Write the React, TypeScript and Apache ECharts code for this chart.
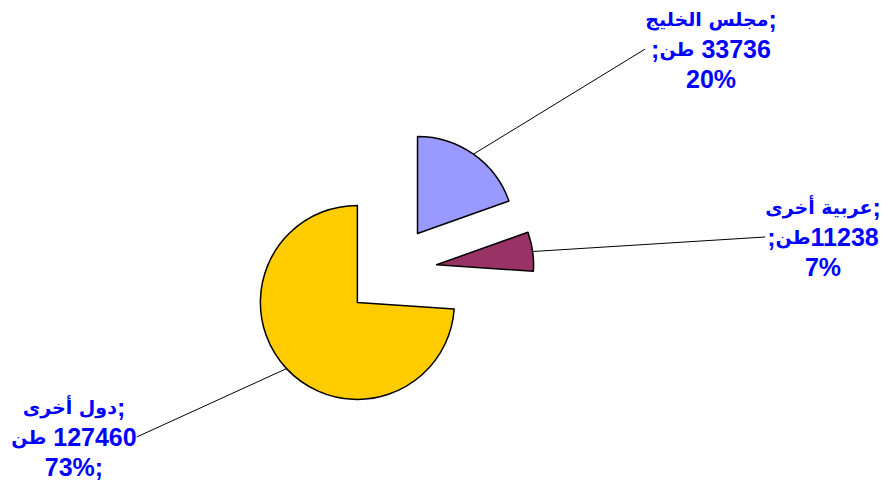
import React, { useEffect, useRef } from "react";
import * as echarts from "echarts";

const names = ["مجلس الخليج", "عربية أخرى", "دول أخرى"];
const values = [33736, 11238, 127460];
const unit = "طن";
const unitLead = [";", ";", ""];
const unitGap = [" ", "", " "];
const pctLabels = ["20%", "7%", "73%;"];
const colors = ["#9999FF", "#993366", "#FFCC00"];
const labelAnchors = [
  [711, 49],
  [823, 237],
  [74, 437],
];

const PIE_CENTER = [391, 271];
const EXPLODE = 46;
const RADIUS = 97;

const FONT = 'Arial, "Liberation Sans", "DejaVu Sans", sans-serif';

export default function App() {
  const ref = useRef<HTMLDivElement>(null);
  useEffect(() => {
    if (!ref.current) return;
    const chart = echarts.init(ref.current, undefined, { renderer: "svg" });
    const total = values.reduce((a, b) => a + b, 0);
    let cum = 0;
    const textStyle = {
      color: "#0000FF",
      fontFamily: FONT,
      fontWeight: "bold",
      fontSize: 25,
      lineHeight: 30,
    };
    const arabicStyle = {
      ...textStyle,
      fontFamily: '"DejaVu Sans", Arial, sans-serif',
      fontSize: 19,
    };
    const series = values.map((v, i) => {
      const mid = ((cum + v / 2) / total) * Math.PI * 2;
      cum += v;
      const cx = PIE_CENTER[0] + EXPLODE * Math.sin(mid);
      const cy = PIE_CENTER[1] - EXPLODE * Math.cos(mid);
      return {
        type: "pie",
        center: [cx, cy],
        radius: RADIUS,
        startAngle: 90,
        clockwise: true,
        silent: true,
        emphasis: { disabled: true },
        data: names.map((n, j) => ({
          name: n,
          value: values[j],
          itemStyle:
            j === i
              ? { color: colors[j], borderColor: "#000000", borderWidth: 1.5 }
              : { color: "rgba(0,0,0,0)", borderWidth: 0 },
          label: { show: j === i },
          labelLine: { show: j === i },
        })),
        label: {
          ...textStyle,
          align: "center",
          formatter: (p: any) => {
            const k = p.dataIndex;
            return (
              `{a|${names[k]}}{s|;}\n` +
              `{s|${unitLead[k]}}{a|${unit}}{s|${unitGap[k]}${values[k]}}\n` +
              `{s|${pctLabels[k]}}`
            );
          },
          rich: { a: arabicStyle, s: textStyle },
        },
        labelLine: {
          length: 20,
          length2: 0,
          lineStyle: { color: "#000000", width: 1 },
        },
        labelLayout: (params: any) =>
          params.dataIndex === i
            ? {
                x: labelAnchors[i][0],
                y: labelAnchors[i][1],
                align: "center",
                verticalAlign: "middle",
              }
            : {},
      };
    });
    chart.setOption({
      animation: false,
      backgroundColor: "#ffffff",
      series,
    });
    return () => chart.dispose();
  }, []);
  return (
    <div
      ref={ref}
      style={{ position: "fixed", left: 0, top: 0, width: 890, height: 482 }}
    />
  );
}
